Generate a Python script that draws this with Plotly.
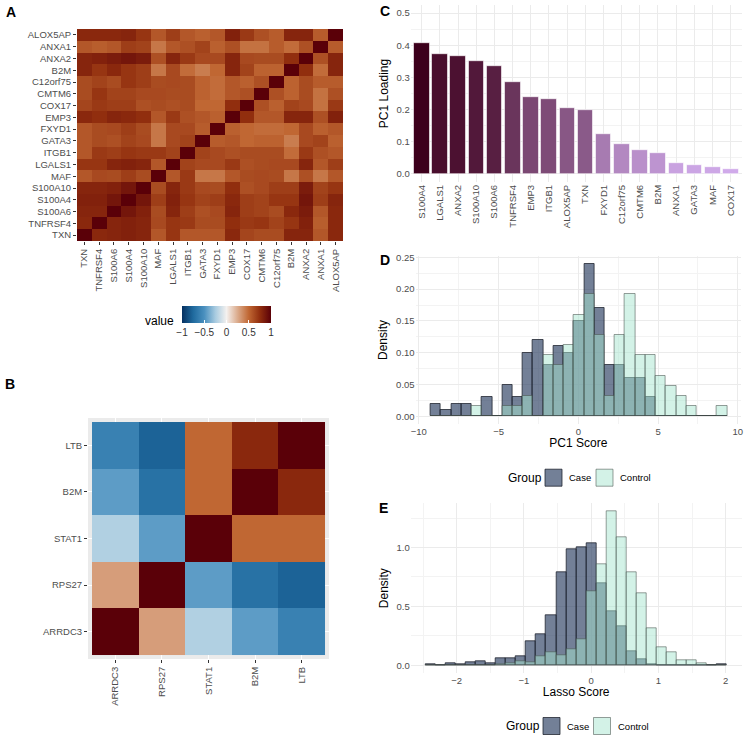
import plotly.graph_objects as go

W = H = 747
FONT = "Liberation Sans, Arial, sans-serif"
TICK_GREY = "#4d4d4d"

# ---- panel A: gene-gene correlation (18 genes) ----
genes_a = ["TXN", "TNFRSF4", "S100A6", "S100A4", "S100A10", "MAF", "LGALS1", "ITGB1",
           "GATA3", "FXYD1", "EMP3", "COX17", "CMTM6", "C12orf75", "B2M", "ANXA2",
           "ANXA1", "ALOX5AP"]
# upper triangle, row i holds correlations with genes i+1 ... end
corr_a_upper = [
    [0.78, 0.80, 0.82, 0.80, 0.57, 0.72, 0.57, 0.57, 0.57, 0.78, 0.65, 0.62, 0.62, 0.80, 0.80, 0.57, 0.78],
    [0.80, 0.82, 0.80, 0.63, 0.72, 0.70, 0.62, 0.62, 0.75, 0.70, 0.72, 0.66, 0.72, 0.82, 0.54, 0.78],
    [0.88, 0.82, 0.62, 0.80, 0.68, 0.60, 0.63, 0.80, 0.68, 0.66, 0.62, 0.78, 0.85, 0.57, 0.78],
    [0.88, 0.68, 0.82, 0.72, 0.66, 0.68, 0.78, 0.68, 0.66, 0.72, 0.72, 0.88, 0.68, 0.80],
    [0.62, 0.80, 0.70, 0.63, 0.62, 0.75, 0.60, 0.63, 0.68, 0.68, 0.85, 0.66, 0.72],
    [0.57, 0.70, 0.44, 0.44, 0.57, 0.62, 0.63, 0.62, 0.44, 0.60, 0.44, 0.57],
    [0.66, 0.63, 0.63, 0.70, 0.60, 0.62, 0.63, 0.63, 0.80, 0.57, 0.68],
    [0.66, 0.63, 0.60, 0.62, 0.62, 0.62, 0.48, 0.70, 0.60, 0.57],
    [0.55, 0.57, 0.50, 0.52, 0.52, 0.42, 0.63, 0.66, 0.53],
    [0.53, 0.50, 0.48, 0.48, 0.50, 0.63, 0.53, 0.57],
    [0.75, 0.57, 0.57, 0.80, 0.80, 0.60, 0.82],
    [0.60, 0.53, 0.66, 0.63, 0.46, 0.70],
    [0.60, 0.52, 0.62, 0.46, 0.60],
    [0.52, 0.62, 0.55, 0.55],
    [0.75, 0.48, 0.80],
    [0.60, 0.80],
    [0.55],
]

# ---- panel B: 5-gene correlation ----
genes_b = ["ARRDC3", "RPS27", "STAT1", "B2M", "LTB"]
corr_b = [
    [1.00, 0.30, -0.22, -0.45, -0.60],
    [0.30, 1.00, -0.45, -0.70, -0.78],
    [-0.22, -0.45, 1.00, 0.50, 0.50],
    [-0.45, -0.70, 0.50, 1.00, 0.78],
    [-0.60, -0.78, 0.50, 0.78, 1.00],
]

# ---- panel C: PC1 loadings ----
pc1_genes = ["S100A4", "LGALS1", "ANXA2", "S100A10", "S100A6", "TNFRSF4", "EMP3", "ITGB1",
             "ALOX5AP", "TXN", "FXYD1", "C12orf75", "CMTM6", "B2M", "ANXA1", "GATA3",
             "MAF", "COX17"]
pc1_loading = [0.406, 0.374, 0.366, 0.350, 0.334, 0.285, 0.240, 0.234, 0.206, 0.200,
               0.124, 0.093, 0.076, 0.065, 0.034, 0.027, 0.022, 0.015]

# ---- panel D: PC1 score histogram ----
pc1_bin_start = -9.25
pc1_bin_width = 0.641
pc1_case = [0.02, 0.01, 0.02, 0.02, 0.0, 0.03, 0.0, 0.05, 0.03, 0.10, 0.12, 0.08, 0.11,
            0.10, 0.15, 0.24, 0.17, 0.08, 0.08, 0.06, 0.06, 0.03, 0.0, 0.0, 0.0, 0.0,
            0.0, 0.0, 0.0]
pc1_control = [0.0, 0.0, 0.0, 0.0, 0.016, 0.0, 0.0, 0.016, 0.016, 0.032, 0.0, 0.096,
               0.08, 0.112, 0.16, 0.192, 0.128, 0.032, 0.128, 0.192, 0.096, 0.096,
               0.064, 0.048, 0.032, 0.016, 0.0, 0.0, 0.016]

# ---- panel E: Lasso score histogram ----
lasso_bin_start = -2.46
lasso_bin_width = 0.1492
lasso_case = [0.005, 0.003, 0.017, 0.005, 0.028, 0.037, 0.02, 0.062, 0.062, 0.079,
              0.204, 0.26, 0.425, 0.793, 0.986, 1.003, 1.04, 0.697, 0.459, 0.334,
              0.119, 0.051, 0.01, 0.0, 0.0, 0.0, 0.0, 0.0, 0.0, 0.008]
lasso_control = [0.0, 0.0, 0.0, 0.0, 0.0, 0.0, 0.0, 0.01, 0.02, 0.037, 0.028, 0.073,
                 0.11, 0.088, 0.136, 0.218, 0.629, 0.861, 1.31, 1.088, 0.793, 0.612,
                 0.311, 0.153, 0.107, 0.039, 0.039, 0.017, 0.003, 0.0]

groups = ["Case", "Control"]

# full symmetric matrix for A
n = len(genes_a)
corr_a = [[1.0] * n for _ in range(n)]
for i, row in enumerate(corr_a_upper):
    for k, v in enumerate(row):
        j = i + 1 + k
        corr_a[i][j] = v
        corr_a[j][i] = v

corr_scale = [[0, "#053061"], [0.125, "#1f6a9e"], [0.25, "#4a90bf"], [0.375, "#a8cbe0"],
              [0.5, "#f4f1ef"], [0.625, "#dbab8c"], [0.75, "#c06733"], [0.875, "#912e0e"],
              [1, "#5a0008"]]


def xdom(a, b):
    return [a / W, b / W]


def ydom(top, bottom):
    return [1 - bottom / H, 1 - top / H]


def centers(start, width, count):
    return [start + width * (i + 0.5) for i in range(count)]


fig = go.Figure()

fig.add_trace(go.Heatmap(
    z=corr_a, x=genes_a, y=genes_a, xaxis="x", yaxis="y",
    colorscale=corr_scale, zmin=-1, zmax=1, showscale=True,
    colorbar=dict(orientation="h", x=226.5 / W, xanchor="center", y=1 - 306 / H,
                  yanchor="top", len=89, lenmode="pixels", thickness=17,
                  outlinewidth=0, xpad=0, ypad=0,
                  tickvals=[-1, -0.5, 0, 0.5, 1],
                  ticktext=["\u22121", "\u22120.5", "0", "0.5", "1"],
                  ticks="inside", ticklen=3, tickcolor="white",
                  tickfont=dict(size=10, color="#333333", family=FONT)),
))

fig.add_trace(go.Heatmap(
    z=corr_b, x=genes_b, y=genes_b, xaxis="x2", yaxis="y2",
    colorscale=corr_scale, zmin=-1, zmax=1, showscale=False,
))

fig.add_trace(go.Bar(
    x=pc1_genes, y=pc1_loading, xaxis="x3", yaxis="y3", width=0.86,
    marker=dict(color=pc1_loading, colorscale=[[0, "#d0aaea"], [1, "#3d001c"]],
                line=dict(color="white", width=0.6)),
    showlegend=False,
))

case_fill = "rgba(40,60,95,0.65)"
ctrl_fill = "rgba(168,230,207,0.5)"
case_line = "rgba(25,30,40,0.75)"
ctrl_line = "rgba(70,80,75,0.55)"
fills = {"Case": case_fill, "Control": ctrl_fill}
lines = {"Case": case_line, "Control": ctrl_line}

for vals, name in zip([pc1_case, pc1_control], groups):
    fig.add_trace(go.Bar(
        x=centers(pc1_bin_start, pc1_bin_width, len(vals)), y=vals, width=pc1_bin_width,
        xaxis="x4", yaxis="y4", name=name, showlegend=False,
        marker=dict(color=fills[name], line=dict(color=lines[name], width=1)),
    ))

for vals, name in zip([lasso_case, lasso_control], groups):
    fig.add_trace(go.Bar(
        x=centers(lasso_bin_start, lasso_bin_width, len(vals)), y=vals, width=lasso_bin_width,
        xaxis="x5", yaxis="y5", name=name, showlegend=False,
        marker=dict(color=fills[name], line=dict(color=lines[name], width=1)),
    ))

tickfont = dict(size=9.5, color=TICK_GREY, family=FONT)
major = "#ebebeb"
minor_c = "#f3f3f3"

common = dict(zeroline=False, automargin=False, tickfont=tickfont, showline=False)

shapes = [dict(type="rect", xref="x2 domain", yref="y2 domain", x0=0, x1=1, y0=0, y1=1,
               fillcolor="#ebebeb", line=dict(width=0), layer="below")]
annotations = []


def add_legend(x_title, yc, x_sw1, x_sw2):
    # ggplot-style legend under a histogram: title, two 17px keys and labels
    annotations.append(dict(text="Group", x=x_title / W, y=1 - yc / H, xref="paper",
                            yref="paper", showarrow=False, xanchor="left", yanchor="middle",
                            font=dict(size=12, color="black")))
    for xs, name in zip([x_sw1, x_sw2], groups):
        shapes.append(dict(type="rect", xref="paper", yref="paper",
                           x0=xs / W, x1=(xs + 17) / W, y0=1 - (yc + 8.5) / H, y1=1 - (yc - 8.5) / H,
                           fillcolor=fills[name], line=dict(color=lines[name], width=1)))
        annotations.append(dict(text=name, x=(xs + 22) / W, y=1 - yc / H, xref="paper",
                                yref="paper", showarrow=False, xanchor="left", yanchor="middle",
                                font=dict(size=9.5, color="black")))


add_legend(506, 477.7, 545, 596)
add_legend(504, 726, 543, 593.5)

# panel letters and colourbar title
for txt, px, py in [("A", 11, 12), ("B", 10, 384), ("C", 385, 11), ("D", 385, 260), ("E", 383, 508)]:
    annotations.append(dict(text="<b>%s</b>" % txt, x=px / W, y=1 - py / H, xref="paper",
                            yref="paper", showarrow=False, xanchor="center", yanchor="middle",
                            font=dict(size=14, color="black")))
annotations.append(dict(text="value", x=176 / W, y=1 - 321 / H, xref="paper", yref="paper",
                        showarrow=False, xanchor="right", yanchor="middle",
                        font=dict(size=12, color="black")))

fig.update_layout(
    width=W, height=H, margin=dict(l=0, r=0, t=0, b=0),
    paper_bgcolor="white", plot_bgcolor="rgba(0,0,0,0)",
    font=dict(family=FONT, color="black"),
    barmode="overlay", bargap=0, showlegend=False,
    # A
    xaxis=dict(domain=xdom(77, 343), anchor="y", type="category", range=[-0.5, 17.5],
               tickangle=-90, ticks="outside", ticklen=3, tickcolor="#333333",
               showgrid=False, **common),
    yaxis=dict(domain=ydom(29, 241), anchor="x", type="category", range=[-0.5, 17.5],
               ticks="outside", ticklen=3, tickcolor="#333333", showgrid=False, **common),
    # B
    xaxis2=dict(domain=xdom(88, 329), anchor="y2", type="category", range=[-0.586, 4.586],
                tickangle=-90, ticks="outside", ticklen=3, tickcolor="#333333",
                showgrid=True, gridcolor="white", gridwidth=1.2, **common),
    yaxis2=dict(domain=ydom(418, 659), anchor="x2", type="category", range=[-0.586, 4.586],
                ticks="outside", ticklen=3, tickcolor="#333333",
                showgrid=True, gridcolor="white", gridwidth=1.2, **common),
    # C
    xaxis3=dict(domain=xdom(410.8, 741.6), anchor="y3", type="category", range=[-0.6, 17.6],
                tickangle=-90, showgrid=True, gridcolor=major, gridwidth=1, **common),
    yaxis3=dict(domain=ydom(5, 182), anchor="x3", range=[-0.025, 0.525], dtick=0.1,
                tickformat=".1f", showgrid=True, gridcolor=major, gridwidth=1,
                minor=dict(dtick=0.05, showgrid=True, gridcolor=minor_c, gridwidth=0.8),
                title=dict(text="PC1 Loading", font=dict(size=12), standoff=5), **common),
    # D
    xaxis4=dict(domain=xdom(415.6, 741), anchor="y4", range=[-10.2, 10.2], dtick=5, tick0=0,
                showgrid=True, gridcolor=major, gridwidth=1,
                minor=dict(dtick=2.5, tick0=0, showgrid=True, gridcolor=minor_c, gridwidth=0.8),
                title=dict(text="PC1 Score", font=dict(size=12), standoff=3), **common),
    yaxis4=dict(domain=ydom(256, 424), anchor="x4", range=[-0.012, 0.252], dtick=0.05,
                tickformat=".2f", showgrid=True, gridcolor=major, gridwidth=1,
                minor=dict(dtick=0.025, showgrid=True, gridcolor=minor_c, gridwidth=0.8),
                title=dict(text="Density", font=dict(size=12), standoff=5), **common),
    # E
    xaxis5=dict(domain=xdom(410.7, 741.7), anchor="y5", range=[-2.684, 2.238], dtick=1, tick0=0,
                showgrid=True, gridcolor=major, gridwidth=1,
                minor=dict(dtick=0.5, tick0=0, showgrid=True, gridcolor=minor_c, gridwidth=0.8),
                title=dict(text="Lasso Score", font=dict(size=12), standoff=3), **common),
    yaxis5=dict(domain=ydom(503.3, 673), anchor="x5", range=[-0.0655, 1.3755], dtick=0.5,
                tickformat=".1f", showgrid=True, gridcolor=major, gridwidth=1,
                minor=dict(dtick=0.25, showgrid=True, gridcolor=minor_c, gridwidth=0.8),
                title=dict(text="Density", font=dict(size=12), standoff=5), **common),
    shapes=shapes,
    annotations=annotations,
)

# page body margin would shift the figure by 8px
fig.write_html("out.html", config={"displayModeBar": False},
               post_script="document.body.style.margin='0';")
